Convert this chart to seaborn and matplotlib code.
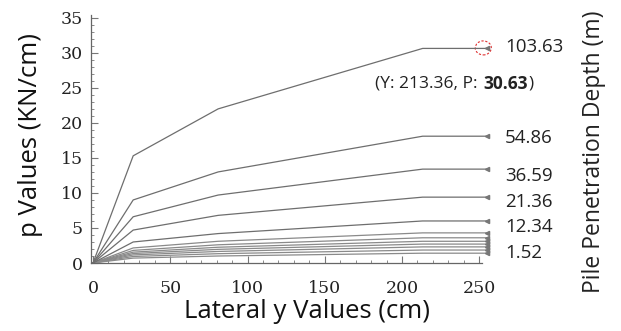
import matplotlib
matplotlib.use("Agg")
import matplotlib.pyplot as plt
import seaborn as sns
import pandas as pd
from matplotlib.patches import Ellipse
from matplotlib.transforms import offset_copy

# ---- data ----
y_points = [0, 26, 81, 213.36, 255]
depths = [1.52, 3.05, 4.57, 6.10, 7.62, 9.14, 10.67, 12.34, 21.36, 36.59, 54.86, 103.63]
p_1_52 = [0, 0.70, 1.00, 1.40, 1.40]
p_3_05 = [0, 0.93, 1.33, 1.85, 1.85]
p_4_57 = [0, 1.15, 1.65, 2.30, 2.30]
p_6_10 = [0, 1.35, 1.95, 2.70, 2.70]
p_7_62 = [0, 1.55, 2.25, 3.10, 3.10]
p_9_14 = [0, 1.80, 2.60, 3.60, 3.60]
p_10_67 = [0, 2.15, 3.10, 4.30, 4.30]
p_12_34 = [0, 3.00, 4.20, 6.00, 6.00]
p_21_36 = [0, 4.70, 6.80, 9.40, 9.40]
p_36_59 = [0, 6.60, 9.70, 13.40, 13.40]
p_54_86 = [0, 9.00, 13.00, 18.10, 18.10]
p_103_63 = [0, 15.30, 22.00, 30.63, 30.63]
series = [p_1_52, p_3_05, p_4_57, p_6_10, p_7_62, p_9_14, p_10_67,
          p_12_34, p_21_36, p_36_59, p_54_86, p_103_63]
shown_labels = ["103.63", "54.86", "36.59", "21.36", "12.34", "1.52"]
x_ticks = [0, 50, 100, 150, 200, 250]
y_ticks = [0, 5, 10, 15, 20, 25, 30, 35]
note_parts = ["(Y: 213.36, P: ", "30.63", ")"]

rows = []
for d, s in zip(depths, series):
    for x, p in zip(y_points, s):
        rows.append({"y": x, "p": p, "depth": str(d)})
df = pd.DataFrame(rows)

sns.set_style("white")
plt.rcParams["font.family"] = ["DejaVu Sans"]

fig = plt.figure(figsize=(6.21, 3.31), dpi=100)
ax = fig.add_axes([91/621, 1-263/331, (487-91)/621, (263-15)/331])

big = ["12.34", "21.36", "36.59", "54.86", "103.63"]
palette = {str(d): ("#6e6e6e" if str(d) in big else "#8a8a8a") for d in depths}
sns.lineplot(data=df, x="y", y="p", hue="depth", palette=palette, legend=False,
             linewidth=0.9, ax=ax, sort=False, estimator=None)
for line in ax.get_lines():
    line.set_clip_on(False)

# end markers
for d, s in zip(depths, series):
    ax.plot([y_points[-1]], [s[-1]], marker="<", markersize=3, color="#777777",
            clip_on=False)

ax.set_xlim(-1.3, 255)
ax.set_ylim(0, 35.4)
ax.spines["bottom"].set_bounds(-1.3, 251.5)
for sp in ["top", "right"]:
    ax.spines[sp].set_visible(False)
for sp in ["left", "bottom"]:
    ax.spines[sp].set_color("#666666")
    ax.spines[sp].set_linewidth(0.9)

ax.set_xticks(x_ticks)
ax.set_yticks(y_ticks)
ax.set_xticks(range(0, 251, 10), minor=True)
ax.set_yticks(range(0, 36, 1), minor=True)
ax.tick_params(which="both", direction="in", color="#777777", bottom=True, left=True)
ax.tick_params(which="major", length=5, width=0.8)
ax.tick_params(which="minor", length=2.5, width=0.6)
ax.tick_params(axis="y", pad=6)
ax.tick_params(axis="x", pad=12)
for lab in ax.get_xticklabels() + ax.get_yticklabels():
    lab.set_fontfamily("DejaVu Serif")
    lab.set_fontsize(12.5)
    lab.set_color("#222222")

ax.set_xlabel("Lateral y Values (cm)", fontsize=18.5, family="Open Sans", color="#111111")
ax.set_ylabel("p Values (KN/cm)", fontsize=18.5, family="Open Sans", color="#111111")
ax.xaxis.set_label_coords((307.5-91)/396, (263-299)/248)
ax.yaxis.set_label_coords((43-91)/396, (263-135)/248)

# right side labels
label_y = {"103.63": 30.9, "54.86": 17.8, "36.59": 12.4, "21.36": 8.7, "12.34": 5.1, "1.52": 1.4}
for lab in shown_labels:
    ax.text(1.045, label_y[lab], lab, transform=ax.get_yaxis_transform(),
            fontsize=13.5, family="Open Sans", color="#222222", va="center", ha="left")

# annotation with bold value, placed piece by piece
renderer = fig.canvas.get_renderer()
trans = ax.get_yaxis_transform()
x0 = (375-91)/396
offset = 0.0
for i, part in enumerate(note_parts):
    t = ax.text(x0, 25.6, part, transform=offset_copy(trans, fig=fig, x=offset, units="dots"),
                fontsize=12.5, family="Open Sans", color="#222222", va="center", ha="left",
                fontweight="bold" if i == 1 else "normal")
    bb = t.get_window_extent(renderer=renderer)
    offset += bb.width + (1.5 if i == 0 else 0.5)

ell = Ellipse((252.6, 30.7), width=10.4, height=2.0, fill=False, edgecolor="#e03030",
              linestyle=(0, (2, 1.5)), linewidth=0.8, clip_on=False)
ax.add_patch(ell)

fig.text(594/621, 1-152/331, "Pile Penetration Depth (m)", rotation=90,
         fontsize=16.5, family="Open Sans", color="#222222", va="center", ha="center")

fig.savefig("out.png", dpi=100)
